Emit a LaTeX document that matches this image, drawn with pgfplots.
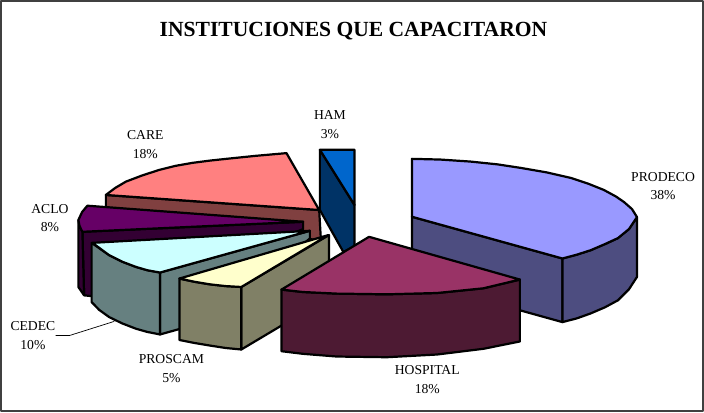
\documentclass[border=0pt]{standalone}
\usepackage{fontspec}
\setmainfont{Liberation Serif}
\usepackage{pgfplots}
\pgfplotsset{compat=1.18}
\definecolor{prodT}{HTML}{9999FF}\definecolor{prodS}{HTML}{4D4D80}
\definecolor{hospT}{HTML}{993366}\definecolor{hospS}{HTML}{4D1A33}
\definecolor{prosT}{HTML}{FFFFCC}\definecolor{prosS}{HTML}{808066}
\definecolor{cedeT}{HTML}{CCFFFF}\definecolor{cedeS}{HTML}{668080}
\definecolor{acloT}{HTML}{660066}\definecolor{acloS}{HTML}{330033}
\definecolor{careT}{HTML}{FF8080}\definecolor{careS}{HTML}{804040}
\definecolor{hamT}{HTML}{0066CC}\definecolor{hamS}{HTML}{003366}
\begin{document}
\begin{tikzpicture}
\begin{axis}[x=1pt,y=1pt,xmin=-1,xmax=703,ymin=-1,ymax=413,y dir=reverse,hide axis,
  scale only axis,clip=false,
  every axis plot/.append style={draw=black,line width=2.2pt,line join=round,mark=none}]
% frame
\addplot[draw=black!75,line width=1.6pt,fill=white] coordinates {(2,1.5)(702,1.5)(702,410.5)(2,410.5)} -- cycle;
% HAM
\addplot[fill=hamS] coordinates {(320,150)(354.5,205)(354.5,247)(343.3,251.7)(320,210)} -- cycle;
\addplot[fill=hamT] coordinates {(320,150)(354.5,150)(354.5,205)} -- cycle;
% CARE
\addplot[fill=careS] coordinates {(106.7,195)(319.3,210)(321,240)(106.7,222)} -- cycle;
\addplot[fill=careT] coordinates {(106.7,195)(116,188)(126.7,181.7)(143,175.5)(160,170)(176,166)(193,163)(210,160.8)(226.7,159)(256,156)(286.7,153.3)(319.3,210)} -- cycle;
% ACLO
\addplot[fill=acloS] coordinates {(83.3,231.7)(303.3,221.7)(303.3,229)(130,300)(85,295)} -- cycle;
\addplot[fill=acloS] coordinates {(79.3,220)(80.5,226)(83.3,231.7)(85,295)(79.3,286.7)} -- cycle;
\addplot[fill=acloT] coordinates {(88.3,205.7)(303.3,221.7)(83.3,231.7)(80.5,226)(79.3,220)(83,212)} -- cycle;
% CEDEC
\addplot[fill=cedeS] coordinates {(160.7,272.3)(310,230.7)(310,238.3)(218,318)(160.7,334)} -- cycle;
\addplot[fill=cedeS] coordinates {(92.5,242.7)(110,255)(123,261.5)(136.7,266.7)(148,270)(160.7,272.3)(160.7,334)(148,331.5)(136.7,328.3)(123,323)(110,316.7)(100,309.5)(92.5,301.7)} -- cycle;
\addplot[fill=cedeT] coordinates {(93.3,242.7)(310,230.7)(160.7,272.3)(148,270)(136.7,266.7)(123,261.5)(110,255)} -- cycle;
% PROSCAM
\addplot[fill=prosS] coordinates {(241.7,286.7)(329,235)(329,297)(241.7,349)} -- cycle;
\addplot[fill=prosS] coordinates {(180,278.3)(195,281.5)(210,284)(226,285.8)(241.7,286.7)(241.7,349)(226,347.5)(210,345)(195,342.5)(180,339.5)} -- cycle;
\addplot[fill=prosT] coordinates {(180,278.3)(328.3,235)(241.7,286.7)(226,285.8)(210,284)(195,281.5)} -- cycle;
% PRODECO
\addplot[fill=prodS] coordinates {(411.7,216.7)(561.7,258.3)(561.7,321.7)(411.7,280)} -- cycle;
\addplot[fill=prodS] coordinates {(636,217)(628,229)(617,238)(604,244)(590,250)(576,254.5)(561.7,258.3)(561.7,321.7)(576,318)(590,313)(604,307)(617,300)(628,289)(636,276.7)} -- cycle;
\addplot[fill=prodT] coordinates {(411.7,159)(440,159.7)(470,161.7)(497,164.5)(520,168)(546,172.5)(570,178)(588,184)(603,190)(615,196.5)(623,202)(631,209)(636,217)(628,229)(617,238)(604,244)(590,250)(576,254.5)(561.7,258.3)(411.7,216.7)} -- cycle;
% HOSPITAL
\addplot[fill=hospS] coordinates {(281.7,289.3)(303,291.7)(336.7,293.3)(386.7,294)(436.7,292.7)(483,288)(519.3,279.3)(519.3,341)(483,348.3)(436.7,354)(386.7,356.7)(336.7,356)(303,353.3)(281.7,350.7)} -- cycle;
\addplot[fill=hospT] coordinates {(369,236.7)(519.3,279.3)(483,288)(436.7,292.7)(386.7,294)(336.7,293.3)(303,291.7)(281.7,289.3)} -- cycle;
% leader
\addplot[line width=0.7pt] coordinates {(56.7,335)(70.7,335)(115,321)};
% text
\node[font=\fontsize{21.5}{24}\selectfont\bfseries] at (axis cs:353.5,32) {INSTITUCIONES QUE CAPACITARON};
\foreach \x/\y/\a/\b in {662/186/PRODECO/38,427/379/HOSPITAL/18,172/368/PROSCAM/5,34/335/CEDEC/10,51/218/ACLO/8,146/145/CARE/18,330/125/HAM/3}{
  \edef\tmp{\noexpand\node[font=\noexpand\fontsize{13.6}{18.5}\noexpand\selectfont,align=center] at (axis cs:\x,\y) {\a\noexpand\\\b\noexpand\%};}
  \tmp
}
\end{axis}
\end{tikzpicture}
\end{document}
